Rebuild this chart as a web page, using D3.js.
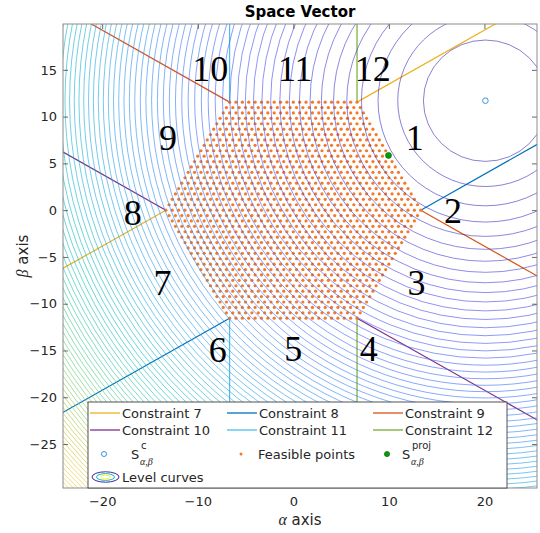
<!DOCTYPE html>
<html>
<head>
<meta charset="utf-8">
<script src="https://cdn.jsdelivr.net/npm/d3@7"></script>
<style>
  body { margin: 0; background: #fff; }
  svg { display: block; }
  text { font-family: "DejaVu Sans", sans-serif; fill: #262626; }
</style>
</head>
<body>
<svg id="chart" width="540" height="533"></svg>
<script>
// ---- data ----
const xDomain = [-24.1, 25.5];
const yDomain = [-29.7, 19.9];
const xTicks = [-20, -10, 0, 10, 20];
const yTicks = [-25, -20, -15, -10, -5, 0, 5, 10, 15];

// hexagon of attainable space vectors (Vdc = 20, radius 2/3 Vdc)
const hexRadius = 13.333;
const hexAngles = [0, 60, 120, 180, 240, 300];

// constraints: each is the line through two hexagon vertices (indices into hexAngles)
const constraintNames = ["Constraint 7", "Constraint 8", "Constraint 9", "Constraint 10", "Constraint 11", "Constraint 12"];
const constraintVertexPairs = [[1, 3], [0, 4], [2, 0], [3, 5], [2, 4], [1, 5]];
const constraintColors = ["#EDB120", "#0072BD", "#D95319", "#7E2F8E", "#4DBEEE", "#77AC30"];

// reference vector and its projection on the hexagon
const refPoint = [20.1, 11.7];
const projPoint = [9.96, 5.85];

// feasible switching points: triangular lattice, K steps per hexagon side
const latticeSteps = 20;

// level curves of ||S - S^c||^2, evaluated on a square grid
const contourGrid = [-30, 30];
const levelCount = 100;
const parulaPos = [0, 7 / 63, 15 / 63, 23 / 63, 31 / 63, 39 / 63, 47 / 63, 55 / 63, 1];
const parulaStops = ["#3e26a8", "#4747eb", "#3875fe", "#23a0e5", "#0bbdbc", "#57cc7a", "#c5c22a", "#feca34", "#f9fb15"];

// region numbers
const regionLabels = ["1", "2", "3", "4", "5", "6", "7", "8", "9", "10", "11", "12"];
const regionX = [12.7, 16.7, 12.9, 7.9, 0.0, -7.9, -13.7, -16.8, -13.1, -8.7, 0.2, 8.3];
const regionY = [7.8, 0.0, -7.7, -14.8, -14.8, -14.9, -7.7, -0.2, 7.8, 15.2, 15.2, 15.2];

// ---- chart ----
const svg = d3.select("#chart");
const plotL = 63, plotR = 537, plotT = 24, plotB = 488;
const x = d3.scaleLinear().domain(xDomain).range([plotL, plotR]);
const y = d3.scaleLinear().domain(yDomain).range([plotB, plotT]);

svg.append("defs").append("clipPath").attr("id", "plotClip")
  .append("rect").attr("x", plotL).attr("y", plotT).attr("width", plotR - plotL).attr("height", plotB - plotT);

const plot = svg.append("g").attr("clip-path", "url(#plotClip)");

const hexPts = hexAngles.map(a => [hexRadius * Math.cos(a * Math.PI / 180), hexRadius * Math.sin(a * Math.PI / 180)]);

// constraint rays leaving the hexagon from both vertices
constraintVertexPairs.forEach((pair, i) => {
  const A = hexPts[pair[0]], B = hexPts[pair[1]];
  const dx = A[0] - B[0], dy = A[1] - B[1];
  const len = Math.hypot(dx, dy);
  const ux = dx / len, uy = dy / len;
  const rays = [
    [A, [A[0] + ux * 100, A[1] + uy * 100]],
    [B, [B[0] - ux * 100, B[1] - uy * 100]]
  ];
  rays.forEach(r => {
    plot.append("line")
      .attr("x1", x(r[0][0])).attr("y1", y(r[0][1]))
      .attr("x2", x(r[1][0])).attr("y2", y(r[1][1]))
      .attr("stroke", constraintColors[i]).attr("stroke-width", 1.2);
  });
});

// S^c marker
plot.append("circle").attr("cx", x(refPoint[0])).attr("cy", y(refPoint[1])).attr("r", 2.8)
  .attr("fill", "none").attr("stroke", "#3d95d6").attr("stroke-width", 1);

// feasible points
const step = hexRadius / latticeSteps;
const feasible = [];
const K = latticeSteps;
for (let j = -K; j <= K; j++) {
  for (let i = -2 * K; i <= 2 * K; i++) {
    const px = (i + j / 2) * step, py = j * step * Math.sqrt(3) / 2;
    if (Math.abs(py) <= hexRadius * Math.sqrt(3) / 2 + 1e-6 &&
        Math.sqrt(3) * Math.abs(px) + Math.abs(py) <= Math.sqrt(3) * hexRadius + 1e-6) {
      feasible.push([px, py]);
    }
  }
}
plot.append("g").selectAll("circle").data(feasible).join("circle")
  .attr("cx", d => x(d[0])).attr("cy", d => y(d[1])).attr("r", 1.6)
  .attr("fill", "#f27a2a");

// level curves
const parula = d3.scaleLinear().domain(parulaPos).range(parulaStops).interpolate(d3.interpolateRgb);
const gridCorners = [[contourGrid[0], contourGrid[0]], [contourGrid[0], contourGrid[1]], [contourGrid[1], contourGrid[0]], [contourGrid[1], contourGrid[1]]];
const zMax = d3.max(gridCorners, c => (c[0] - refPoint[0]) ** 2 + (c[1] - refPoint[1]) ** 2);
const levelStep = zMax / (levelCount + 1);
const levels = d3.range(1, levelCount + 1).map(k => k * levelStep);
plot.append("g").selectAll("ellipse").data(levels).join("ellipse")
  .attr("cx", x(refPoint[0])).attr("cy", y(refPoint[1]))
  .attr("rx", d => x(refPoint[0] + Math.sqrt(d)) - x(refPoint[0]))
  .attr("ry", d => y(refPoint[1]) - y(refPoint[1] + Math.sqrt(d)))
  .attr("fill", "none")
  .attr("stroke", d => parula(d / zMax))
  .attr("stroke-opacity", 0.8)
  .attr("stroke-width", 0.75);

// projection point
plot.append("circle").attr("cx", x(projPoint[0])).attr("cy", y(projPoint[1])).attr("r", 3)
  .attr("fill", "#00a000").attr("stroke", "#0b5d0b").attr("stroke-width", 0.6);

// region numbers
svg.append("g").selectAll("text").data(regionLabels).join("text")
  .attr("x", (d, i) => x(regionX[i])).attr("y", (d, i) => y(regionY[i]))
  .attr("dy", "0.35em")
  .attr("text-anchor", "middle")
  .style("font-family", "'Liberation Serif', serif")
  .style("font-size", "36px")
  .style("fill", "#000")
  .text(d => d);

// axes (ticks inside the box)
const axisColor = "#262626";
function styleAxis(g) {
  g.select(".domain").remove();
  g.selectAll("line").attr("stroke", axisColor).attr("stroke-width", 0.7);
  g.selectAll("text").style("font-size", "13px").style("font-family", "'DejaVu Sans', sans-serif").attr("fill", axisColor);
}
svg.append("g").attr("transform", `translate(0,${plotB})`)
  .call(d3.axisBottom(x).tickValues(xTicks).tickSizeInner(-5).tickSizeOuter(0).tickPadding(9)).call(styleAxis);
svg.append("g").attr("transform", `translate(0,${plotT})`)
  .call(d3.axisTop(x).tickValues(xTicks).tickSizeInner(-5).tickSizeOuter(0).tickFormat("")).call(styleAxis);
svg.append("g").attr("transform", `translate(${plotL},0)`)
  .call(d3.axisLeft(y).tickValues(yTicks).tickSizeInner(-5).tickSizeOuter(0).tickPadding(6)).call(styleAxis);
svg.append("g").attr("transform", `translate(${plotR},0)`)
  .call(d3.axisRight(y).tickValues(yTicks).tickSizeInner(-5).tickSizeOuter(0).tickFormat("")).call(styleAxis);

svg.append("rect").attr("x", plotL).attr("y", plotT).attr("width", plotR - plotL).attr("height", plotB - plotT)
  .attr("fill", "none").attr("stroke", "#8c8c8c").attr("stroke-width", 1);

// title and axis labels
svg.append("text").attr("x", (plotL + plotR) / 2).attr("y", 17).attr("text-anchor", "middle")
  .style("font-size", "15px").style("font-weight", "bold").style("fill", "#000").text("Space Vector");

const xl = svg.append("text").attr("x", (plotL + plotR) / 2).attr("y", 525).attr("text-anchor", "middle")
  .style("font-size", "15px");
xl.append("tspan").style("font-family", "'Liberation Serif', serif").style("font-style", "italic").style("font-size", "16px").text("α");
xl.append("tspan").text(" axis");

const yl = svg.append("text").attr("transform", `translate(28,${(plotT + plotB) / 2}) rotate(-90)`)
  .attr("text-anchor", "middle").style("font-size", "15px");
yl.append("tspan").style("font-family", "'Liberation Serif', serif").style("font-style", "italic").style("font-size", "16px").text("β");
yl.append("tspan").text(" axis");

// legend
const legend = svg.append("g");
legend.append("rect").attr("x", 88).attr("y", 402).attr("width", 419).attr("height", 86)
  .attr("fill", "#fff").attr("stroke", "#262626").attr("stroke-width", 0.8);

const colX = [90, 227, 373];
const rowY = [413, 430];
constraintNames.forEach((name, i) => {
  const cx = colX[i % 3], cy = rowY[Math.floor(i / 3)];
  legend.append("line").attr("x1", cx).attr("x2", cx + 30).attr("y1", cy).attr("y2", cy)
    .attr("stroke", constraintColors[i]).attr("stroke-width", 1.3);
  legend.append("text").attr("x", cx + 32).attr("y", cy).attr("dy", "0.36em")
    .style("font-size", "13px").text(name);
});

// row 3: markers
const r3 = 454;
legend.append("circle").attr("cx", 104).attr("cy", r3).attr("r", 2.5)
  .attr("fill", "none").attr("stroke", "#3d95d6").attr("stroke-width", 1);
function symbolS(xPos, sup) {
  const t = legend.append("text").attr("x", xPos).attr("y", r3).attr("dy", "0.36em").style("font-size", "13px");
  t.append("tspan").text("S");
  legend.append("text").attr("x", xPos + 10).attr("y", r3 - 5).style("font-size", "10px").text(sup);
  legend.append("text").attr("x", xPos + 9).attr("y", r3 + 11)
    .style("font-family", "'Liberation Serif', serif").style("font-style", "italic").style("font-size", "10px").text("α,β");
}
symbolS(131, "c");
legend.append("circle").attr("cx", 241).attr("cy", r3).attr("r", 1.5).attr("fill", "#f27a2a");
legend.append("text").attr("x", 258).attr("y", r3).attr("dy", "0.36em").style("font-size", "13px").text("Feasible points");
legend.append("circle").attr("cx", 387).attr("cy", r3).attr("r", 2.6)
  .attr("fill", "#00a000").attr("stroke", "#0b5d0b").attr("stroke-width", 0.6);
symbolS(402, "proj");

// row 4: level curves icon
const r4 = 477;
[[13.5, 5.2, parula(0)], [9, 3.4, parula(0.45)], [5, 1.8, parula(1)]].forEach(e => {
  legend.append("ellipse").attr("cx", 105.5).attr("cy", r4).attr("rx", e[0]).attr("ry", e[1])
    .attr("fill", "none").attr("stroke", e[2]).attr("stroke-width", 1);
});
legend.append("text").attr("x", 122).attr("y", r4).attr("dy", "0.36em").style("font-size", "13px").text("Level curves");
</script>
</body>
</html>
